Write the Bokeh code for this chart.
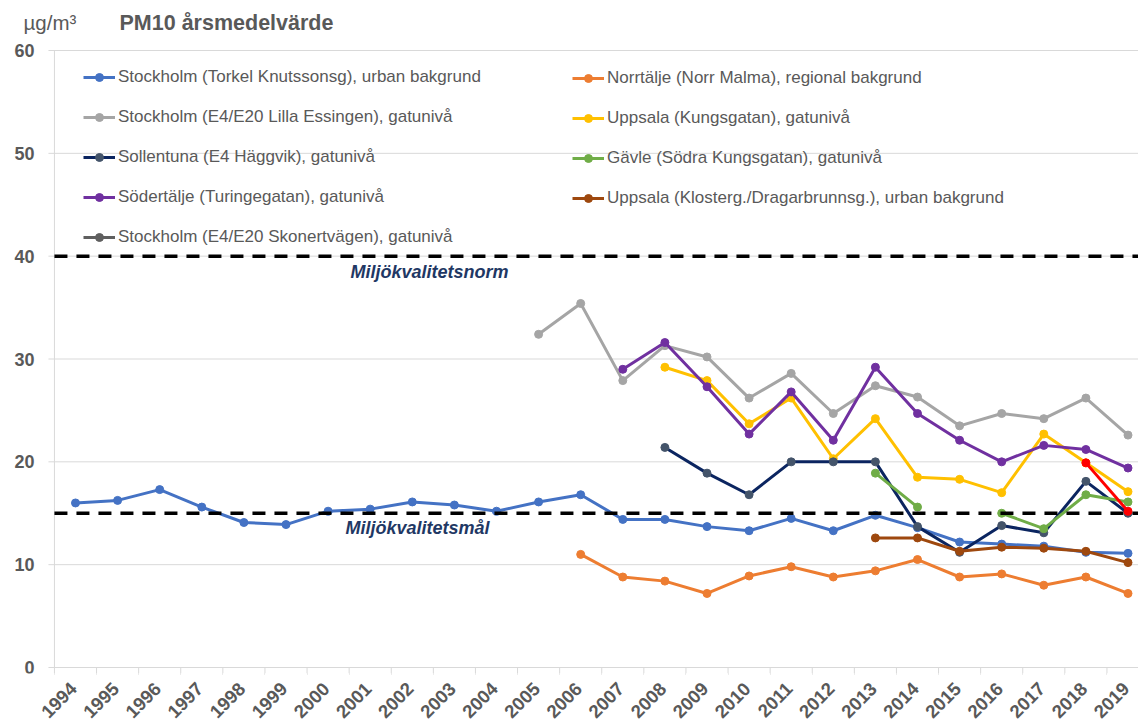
import math
from bokeh.plotting import figure
from bokeh.models import FixedTicker, Legend, LegendItem, ColumnDataSource, Range1d
from bokeh.core.properties import value
from bokeh.embed import file_html
from bokeh.resources import INLINE

years = [1994, 1995, 1996, 1997, 1998, 1999, 2000, 2001, 2002, 2003, 2004, 2005, 2006,
         2007, 2008, 2009, 2010, 2011, 2012, 2013, 2014, 2015, 2016, 2017, 2018, 2019]
N = None

torkel = [16.0, 16.25, 17.3, 15.6, 14.1, 13.9, 15.2, 15.4, 16.1, 15.8, 15.2, 16.1, 16.8,
          14.4, 14.4, 13.7, 13.3, 14.5, 13.3, 14.8, 13.6, 12.2, 12.0, 11.8, 11.2, 11.1]
norrtalje = [N, N, N, N, N, N, N, N, N, N, N, N, 11.0,
             8.8, 8.4, 7.2, 8.9, 9.8, 8.8, 9.4, 10.5, 8.8, 9.1, 8.0, 8.8, 7.2]
lilla_essingen = [N, N, N, N, N, N, N, N, N, N, N, 32.4, 35.4,
                  27.9, 31.3, 30.2, 26.2, 28.6, 24.7, 27.4, 26.3, 23.5, 24.7, 24.2, 26.2, 22.6]
uppsala_kungsg = [N, N, N, N, N, N, N, N, N, N, N, N, N,
                  N, 29.2, 27.9, 23.7, 26.2, 20.3, 24.2, 18.5, 18.3, 17.0, 22.7, 19.9, 17.1]
sollentuna = [N, N, N, N, N, N, N, N, N, N, N, N, N,
              N, 21.4, 18.9, 16.8, 20.0, 20.0, 20.0, 13.7, 11.2, 13.8, 13.1, 18.1, 15.0]
gavle = [N, N, N, N, N, N, N, N, N, N, N, N, N,
         N, N, N, N, N, N, 18.9, 15.6, N, 15.0, 13.5, 16.8, 16.1]
sodertalje = [N, N, N, N, N, N, N, N, N, N, N, N, N,
              29.0, 31.6, 27.3, 22.7, 26.8, 22.1, 29.2, 24.7, 22.1, 20.0, 21.6, 21.2, 19.4]
uppsala_klost = [N, N, N, N, N, N, N, N, N, N, N, N, N,
                 N, N, N, N, N, N, 12.6, 12.6, 11.3, 11.7, 11.6, 11.3, 10.2]
skonertvagen = [N, N, N, N, N, N, N, N, N, N, N, N, N,
                N, N, N, N, N, N, N, N, N, N, N, 19.9, 15.2]

series = [
    ("Stockholm (Torkel Knutssonsg), urban bakgrund", torkel, "#4472C4", "#4472C4", None),
    ("Norrtälje (Norr Malma), regional bakgrund", norrtalje, "#ED7D31", "#ED7D31", None),
    ("Stockholm (E4/E20 Lilla Essingen), gatunivå", lilla_essingen, "#A5A5A5", "#A5A5A5", None),
    ("Uppsala (Kungsgatan), gatunivå", uppsala_kungsg, "#FFC000", "#FFC000", None),
    ("Sollentuna (E4 Häggvik), gatunivå", sollentuna, "#0B2560", "#44546A", None),
    ("Gävle (Södra Kungsgatan), gatunivå", gavle, "#70AD47", "#70AD47", None),
    ("Södertälje (Turingegatan), gatunivå", sodertalje, "#7030A0", "#7030A0", None),
    ("Uppsala (Klosterg./Dragarbrunnsg.), urban bakgrund", uppsala_klost, "#9E480E", "#9E480E", None),
    ("Stockholm (E4/E20 Skonertvägen), gatunivå", skonertvagen, "#FF0000", "#FF0000", "#5F5F5F"),
]

y_ticks = [0, 10, 20, 30, 40, 50, 60]
norm_value = 40
goal_value = 15

TXT = "#595959"
GRID = "#D9D9D9"
FONT = "Liberation Sans"

# pixel -> data helpers (layout only)
PX_PER_YEAR = 42.1
X0 = 1994 - 75 / PX_PER_YEAR
X1 = 1994 + (1138 - 75) / PX_PER_YEAR
PX_PER_UNIT = 617 / 60.0
AXIS_PX = 667
BOTTOM_BORDER = 53
FRAME_BOTTOM = 726 - BOTTOM_BORDER
Y_TOP = AXIS_PX / PX_PER_UNIT
Y_BOT = -(FRAME_BOTTOM - AXIS_PX) / PX_PER_UNIT
LABEL_SHIFT = 2 / PX_PER_YEAR   # rotated labels end just right of the category centre

def dx(px):
    return X0 + px / PX_PER_YEAR

def dy(py):
    return (AXIS_PX - py) / PX_PER_UNIT

x_lo = years[0] - 0.5
x_hi = years[-1] + 0.5
bounds = [y - 0.5 for y in years] + [x_hi]
label_pos = [round(y - LABEL_SHIFT, 4) for y in years]

p = figure(width=1138, height=726, output_backend="svg", toolbar_location=None,
           x_range=Range1d(X0, X1), y_range=Range1d(Y_BOT, Y_TOP), y_axis_location=None,
           min_border_left=0, min_border_right=0, min_border_top=0,
           min_border_bottom=BOTTOM_BORDER)
p.outline_line_color = None
p.background_fill_color = "white"
p.border_fill_color = "white"
p.xgrid.grid_line_color = None
p.ygrid.grid_line_color = None

# x axis (real axis, labels at year centres, ticks at category boundaries)
xa = p.xaxis[0]
xa.ticker = FixedTicker(ticks=label_pos, minor_ticks=bounds)
xa.major_label_overrides = {lp: str(y) for lp, y in zip(label_pos, years)}
xa.major_tick_line_color = None
xa.major_tick_out = 0
xa.major_tick_in = 0
xa.minor_tick_line_color = GRID
xa.minor_tick_out = 1
xa.minor_tick_in = 0
xa.axis_line_color = None
xa.major_label_orientation = math.pi / 4
xa.major_label_text_font = FONT
xa.major_label_text_font_style = "bold"
xa.major_label_text_font_size = "18.5px"
xa.major_label_text_color = TXT
xa.major_label_standoff = 11

# category boundary ticks from the value axis (y=0) down to the frame edge
p.segment(x0=bounds, y0=[0] * len(bounds), x1=bounds, y1=[Y_BOT] * len(bounds),
          line_color=GRID, line_width=1)

# horizontal gridlines + y axis drawn through the data scales
grid_src = ColumnDataSource(dict(x0=[x_lo - 6 / PX_PER_YEAR] * len(y_ticks),
                                 x1=[X1] * len(y_ticks), y=y_ticks))
p.segment("x0", "y", "x1", "y", source=grid_src, line_color=GRID, line_width=1)
p.segment(x0=[x_lo], y0=[0], x1=[x_lo], y1=[y_ticks[-1]], line_color=GRID, line_width=1)
p.segment(x0=[x_lo], y0=[0], x1=[x_hi], y1=[0], line_color=GRID, line_width=1)
lab_src = ColumnDataSource(dict(x=[x_lo - 20 / PX_PER_YEAR] * len(y_ticks), y=y_ticks,
                                t=[str(v) for v in y_ticks]))
p.text("x", "y", text="t", source=lab_src, text_align="right", text_baseline="middle",
       text_font=value(FONT), text_font_style="bold", text_font_size="18px", text_color=TXT)

# titles
p.text(x=[dx(23)], y=[dy(22)], text=["µg/m³"], text_font=value(FONT), text_font_size="20.5px",
       text_color=TXT, text_baseline="middle")
p.text(x=[dx(119)], y=[dy(22)], text=["PM10 årsmedelvärde"], text_font=value(FONT),
       text_font_style="bold", text_font_size="21.5px", text_color=TXT, text_baseline="middle")

items = []
for name, vals, lc, mc, legc in series:
    ys = [float("nan") if v is None else v for v in vals]
    src = ColumnDataSource(dict(x=years, y=ys))
    r1 = p.line("x", "y", source=src, line_color=lc, line_width=3)
    r2 = p.scatter("x", "y", source=src, size=8, fill_color=mc, line_color=mc)
    if legc is None:
        items.append(LegendItem(label=name, renderers=[r1, r2]))
    else:
        dsrc = ColumnDataSource(dict(x=[float("nan")], y=[float("nan")]))
        d1 = p.line("x", "y", source=dsrc, line_color=legc, line_width=3)
        d2 = p.scatter("x", "y", source=dsrc, size=8, fill_color=legc, line_color=legc)
        items.append(LegendItem(label=name, renderers=[d1, d2]))

# reference lines
p.segment(x0=[x_lo, x_lo], y0=[norm_value, goal_value], x1=[X1, X1],
          y1=[norm_value, goal_value], line_color="black", line_width=3.5, line_dash="13 9")
p.text(x=[dx(350)], y=[dy(271)], text=["Miljökvalitetsnorm"], text_font=value(FONT),
       text_font_style="bold italic", text_font_size="18px", text_color="#1F3864",
       text_baseline="middle")
p.text(x=[dx(345)], y=[dy(527)], text=["Miljökvalitetsmål"], text_font=value(FONT),
       text_font_style="bold italic", text_font_size="18px", text_color="#1F3864",
       text_baseline="middle")

left_items = [items[i] for i in (0, 2, 4, 6, 8)]
right_items = [items[i] for i in (1, 3, 5, 7)]

def make_legend(its, loc):
    return Legend(items=its, location=loc, orientation="vertical", padding=0, margin=0,
                  border_line_color=None, background_fill_alpha=0, glyph_width=32,
                  glyph_height=20, label_height=20, spacing=20, label_standoff=3,
                  label_text_font=FONT, label_text_font_size="17px", label_text_color=TXT)

# legend locations are measured from the frame's bottom-left corner
p.add_layout(make_legend(left_items, (83, FRAME_BOTTOM - 247)))
p.add_layout(make_legend(right_items, (572, FRAME_BOTTOM - 208)))

open("out.html", "w").write(file_html(p, INLINE))
